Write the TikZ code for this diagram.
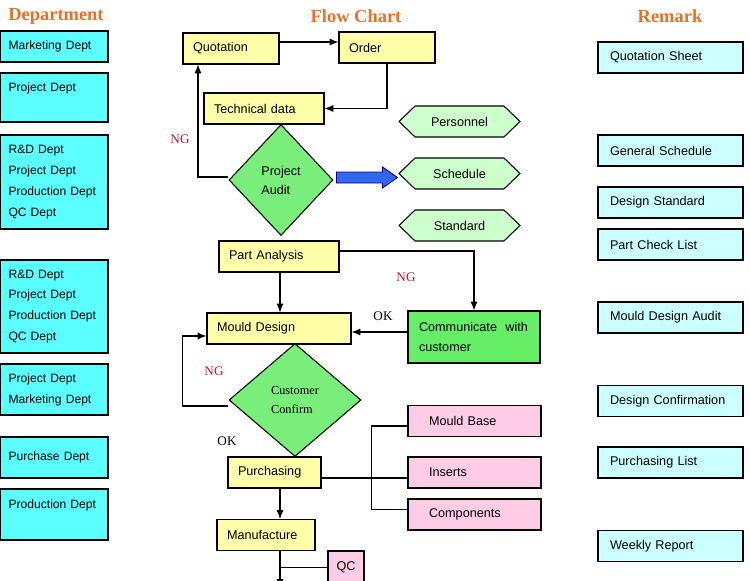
\documentclass[tikz,border=0pt]{standalone}
\usepackage{fontspec}
\setmainfont{Liberation Sans}
\newfontfamily\serifa{Liberation Serif}
\usetikzlibrary{shapes.geometric,shapes.symbols,arrows.meta}

\definecolor{depcyan}{RGB}{92,255,255}
\definecolor{remcyan}{RGB}{204,255,255}
\definecolor{flowyellow}{RGB}{255,255,170}
\definecolor{auditgreen}{RGB}{122,238,122}
\definecolor{commgreen}{RGB}{102,238,102}
\definecolor{hexgreen}{RGB}{204,255,204}
\definecolor{partpink}{RGB}{255,204,230}
\definecolor{arrowblue}{RGB}{51,102,238}
\definecolor{titleorange}{RGB}{232,112,40}
\definecolor{ngred}{RGB}{204,20,40}

\begin{document}
\begin{tikzpicture}[x=0.02cm, y=-0.02cm, line width=0.6pt,
	font=\fontsize{7.2}{11.9}\selectfont,
	box/.style={draw, inner xsep=0.2cm, inner ysep=0pt, align=left, minimum height=0.62cm},
	dept/.style={box, fill=depcyan, inner xsep=0.17cm, text width=1.82cm,
		font=\fontsize{6.9}{11.9}\selectfont},
	remark/.style={box, fill=remcyan, inner xsep=0.24cm, text width=2.42cm},
	flow/.style={box, fill=flowyellow},
	pinkbox/.style={box, fill=partpink, inner xsep=0.42cm, text width=1.82cm},
	hexa/.style={signal, signal to=east and west, signal pointer angle=88, draw, fill=hexgreen,
		minimum width=2.42cm, minimum height=0.62cm, inner sep=0pt},
	decision/.style={diamond, draw, fill=auditgreen, inner sep=0pt, align=left},
	title/.style={font=\serifa\fontsize{10.5}{12}\selectfont\bfseries, text=titleorange},
	ng/.style={font=\serifa\fontsize{7.5}{9}\selectfont, text=ngred},
	ok/.style={font=\serifa\fontsize{7.5}{9}\selectfont},
	arr/.style={-{Latex[length=5pt,width=4pt]}}]
	
	\useasboundingbox (0,0) rectangle (750,581);
	\clip (0,0) rectangle (750,581);
	
	% Titoli delle colonne
	\node[title] (tdep) at (56,16) {Department};
	\node[title] (tflow) at (356,16) {Flow Chart};
	\node[title] (trem) at (670,16) {Remark};
	
	% Reparti (colonna sinistra)
	\node[dept] (d1) at (54,46.5) {Marketing Dept};
	\node[dept, minimum height=0.98cm] (d2) at (54,97.5) {Project Dept\\~};
	\node[dept, minimum height=1.88cm] (d3) at (54,182) {R\&D Dept\\Project Dept\\Production Dept\\QC Dept};
	\node[dept, minimum height=1.86cm] (d4) at (54,306.5) {R\&D Dept\\Project Dept\\Production Dept\\QC Dept};
	\node[dept, minimum height=1.02cm] (d5) at (54,389.5) {Project Dept\\Marketing Dept};
	\node[dept, minimum height=0.82cm] (d6) at (54,457.5) {Purchase Dept};
	\node[dept, minimum height=1.02cm] (d7) at (54,514.5) {Production Dept\\~};
	
	% Documenti (colonna destra)
	\node[remark] (r1) at (670.5,57.5) {Quotation Sheet};
	\node[remark] (r2) at (670.5,150.5) {General Schedule};
	\node[remark] (r3) at (670.5,202.5) {Design Standard};
	\node[remark] (r4) at (670.5,244.5) {Part Check List};
	\node[remark] (r5) at (670.5,317.5) {Mould Design Audit};
	\node[remark] (r6) at (670.5,401) {Design Confirmation};
	\node[remark] (r7) at (670.5,462.5) {Purchasing List};
	\node[remark] (r8) at (670.5,546) {Weekly Report};
	
	% Flusso: blocchi gialli
	\node[flow, text width=1.52cm] (quot) at (231,48.5) {Quotation};
	\node[flow, text width=1.52cm] (order) at (387,47.5) {Order};
	\node[flow, text width=2.0cm] (tech) at (264,108.5) {Technical data};
	\node[flow, text width=2.0cm] (part) at (279,256.5) {Part Analysis};
	\node[flow, text width=2.48cm] (mould) at (279,328.5) {Mould Design};
	\node[flow, text width=1.46cm] (purch) at (274.5,472.5) {Purchasing};
	\node[flow, text width=1.56cm] (manu) at (266,535) {Manufacture};
	
	% Decisioni
	\node[decision, minimum width=2.08cm, minimum height=2.22cm,
		font=\fontsize{7.2}{10.8}\selectfont] (audit) at (281,180) {Project\\Audit};
	\node[decision, minimum width=2.64cm, minimum height=2.26cm,
		font=\serifa\fontsize{7}{11.3}\selectfont] (confirm) at (295,400) {Customer\\Confirm};
	
	% Risorse (esagoni)
	\node[hexa] (hex1) at (459.5,121.5) {Personnel};
	\node[hexa] (hex2) at (459.5,173.5) {Schedule};
	\node[hexa] (hex3) at (459.5,225.5) {Standard};
	
	% Cliente e acquisti
	\node[box, fill=commgreen, inner xsep=0.22cm, text width=2.2cm, minimum height=1.04cm,
		font=\fontsize{7.2}{11.3}\selectfont] (comm) at (474,337) {Communicate\ \ with\\customer};
	\node[pinkbox] (mb) at (474.5,421) {Mould Base};
	\node[pinkbox] (ins) at (474.5,472.5) {Inserts};
	\node[pinkbox] (comp) at (474.5,514.5) {Components};
	\node[box, fill=partpink, align=center, minimum width=0.72cm, minimum height=0.66cm,
		inner xsep=0pt] (qc) at (346,567.5) {QC};
	
	% Etichette NG / OK
	\node[ng] (ng1) at (180,139) {NG};
	\node[ng] (ng2) at (406,277) {NG};
	\node[ok] (ok1) at (383,316) {OK};
	\node[ng] (ng3) at (214,371) {NG};
	\node[ok] (ok2) at (227,441) {OK};
	
	% Collegamenti
	\coordinate (spine) at (280,0);
	\path ([yshift=0.13cm]quot.east) coordinate (q1);
	\draw[arr] (q1) -- (q1 -| order.west);
	\draw[arr] (order.south) |- (tech.east);
	\draw[arr] ([yshift=0.06cm]audit.west) -| ([xshift=-0.66cm]quot.south);
	
	% freccia blu verso le risorse
	\filldraw[draw=blue!55!black, fill=arrowblue, line width=0.5pt]
		(audit.east) ++(3,-8) -- ++(46,0) -- ++(0,-5) -- ++(15,10.5)
		-- ++(-15,10.5) -- ++(0,-5) -- ++(-46,0) -- cycle;
	
	\draw[arr] (part.south -| spine) -- (mould.north -| spine);
	\draw[arr] ([yshift=0.11cm]part.east) -| (comm.north);
	\path ([yshift=0.1cm]comm.west) coordinate (c1);
	\draw[arr] (c1) -- (c1 -| mould.east);
	\path ([yshift=-0.12cm]confirm.west) coordinate (c2);
	\draw[arr] (c2) -- ++(-46,0) |- ([yshift=-0.15cm]mould.west);
	
	% acquisti: materiali
	\path ([yshift=-0.11cm]purch.east) coordinate (p1);
	\draw (p1) -- (p1 -| ins.west);
	\draw ([yshift=-0.1cm]mb.west) -- ++(-36,0) |- ([yshift=0.1cm]comp.west);
	
	\draw[arr] (purch.south -| spine) -- (manu.north -| spine);
	\coordinate (fine) at (280,588);
	\draw[arr] (manu.south -| spine) -- (fine);
	\draw (qc.west) -- (qc.west -| spine);
	
\end{tikzpicture}
\end{document}
